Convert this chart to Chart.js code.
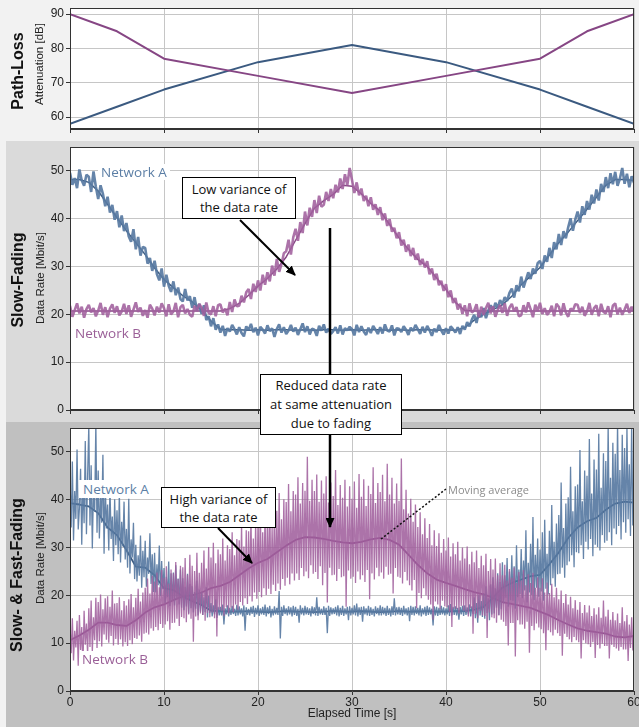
<!DOCTYPE html>
<html><head><meta charset="utf-8">
<script src="https://cdn.jsdelivr.net/npm/chart.js@4"></script>
<style>
body{margin:0;width:639px;height:727px;position:relative;overflow:hidden;background:#f2f2f2;font-family:"Liberation Sans",Arial,sans-serif}
.bg{position:absolute}
canvas{position:absolute;left:0}
.rot{position:absolute;transform:translate(-50%,-50%) rotate(-90deg);white-space:nowrap;color:#111}
.side{font-weight:bold;font-size:16px}
.ax{font-size:11.5px;color:#222}
.box{position:absolute;background:#fff;border:1px solid #000;text-align:center;font-family:"Open Sans",sans-serif;font-size:13px;line-height:18px;color:#111;box-sizing:border-box;display:flex;flex-direction:column;justify-content:center}
.lbl{position:absolute;font-family:"Open Sans",sans-serif;font-size:13.5px;white-space:nowrap;line-height:16px}
</style></head>
<body>
<div class="bg" style="left:0;top:0;width:639px;height:141px;background:#f2f2f2"></div>
<div class="bg" style="left:6px;top:141px;width:633px;height:281px;background:#dadada"></div>
<div class="bg" style="left:6px;top:422px;width:633px;height:305px;background:#c0c0c0"></div>
<canvas id="c1" width="639" height="140" style="top:0"></canvas>
<canvas id="c2" width="639" height="280" style="top:141px"></canvas>
<canvas id="c3" width="639" height="305" style="top:422px"></canvas>

<div class="rot side" style="left:18px;top:71px">Path-Loss</div>
<div class="rot ax" style="left:39px;top:64px">Attenuation [dB]</div>
<div class="rot side" style="left:18px;top:280px">Slow-Fading</div>
<div class="rot ax" style="left:40px;top:278px">Data Rate [Mbit/s]</div>
<div class="rot side" style="left:17px;top:575px">Slow- &amp; Fast-Fading</div>
<div class="rot ax" style="left:40px;top:558px">Data Rate [Mbit/s]</div>
<div style="position:absolute;left:352px;top:706px;transform:translateX(-50%);font-size:12px;color:#222;white-space:nowrap">Elapsed Time [s]</div>

<svg width="639" height="727" style="position:absolute;left:0;top:0">
<defs><marker id="ah" markerWidth="10" markerHeight="9" refX="9" refY="4.5" orient="auto" markerUnits="userSpaceOnUse"><path d="M0,0 L10,4.5 L0,9 z" fill="#000"/></marker></defs>
<line x1="240" y1="220" x2="295" y2="275" stroke="#000" stroke-width="2" marker-end="url(#ah)"/>
<line x1="330" y1="228" x2="330" y2="375" stroke="#000" stroke-width="2.5"/>
<line x1="330" y1="434" x2="330" y2="527" stroke="#000" stroke-width="2.5" marker-end="url(#ah)"/>
<line x1="218" y1="528" x2="252" y2="563" stroke="#000" stroke-width="2" marker-end="url(#ah)"/>
<line x1="381" y1="539" x2="446" y2="489" stroke="#111" stroke-width="1.5" stroke-dasharray="2,2"/>
</svg>

<div class="lbl" style="left:98px;top:164px;background:#fff;padding:0 3px;color:#5b7ea5">Network A</div>
<div class="lbl" style="left:75px;top:325px;color:#9a5f97">Network B</div>
<div class="lbl" style="left:79px;top:480px;background:#fff;padding:1px 4px;color:#5b7ea5">Network A</div>
<div class="lbl" style="left:80px;top:651px;background:#fff;padding:0 2px;color:#9a5f97">Network B</div>
<div class="lbl" style="left:448px;top:482px;font-size:11px;color:#8c8c8c">Moving average</div>
<div class="box" style="left:182px;top:177px;width:114px;height:42px"><div>Low variance of</div><div>the data rate</div></div>
<div class="box" style="left:260px;top:374px;width:142px;height:61px;line-height:19px"><div>Reduced data rate</div><div>at same attenuation</div><div>due to fading</div></div>
<div class="box" style="left:161px;top:487px;width:115px;height:41px"><div>High variance of</div><div>the data rate</div></div>

<script>
// ---------- Path-loss (top) ----------
const pathTime = [0, 5, 10, 20, 30, 40, 50, 55, 60];
const pathLossA = [58, 63, 68, 76, 81, 76, 68, 63, 58];
const pathLossB = [90, 85, 77, 72, 67, 72, 77, 85, 90];

// ---------- Slow fading (middle): one sample every 0.25 s ----------
const slowRateA = [
49.6,47.1,48.5,46.4, 50.3,48.0,46.9,49.2, 48.8,45.6,49.9,46.7, 44.1,47.0,45.2,42.6,
44.6,41.3,42.9,39.8, 41.6,38.2,40.7,37.4, 39.1,36.3,35.2,37.8, 33.6,36.2,32.3,34.1,
33.9,30.6,31.8,29.1, 31.2,28.4,27.1,29.6, 25.8,28.3,26.0,24.7, 26.9,24.0,25.6,23.2,
22.7,25.3,22.9,23.8, 21.4,23.6,20.9,22.2, 20.1,21.9,18.8,19.6, 17.5,19.2,16.8,17.9,
16.2,17.6,15.5,17.1, 16.4,17.8,16.9,15.8, 17.3,16.1,15.4,17.5, 16.7,18.0,16.3,17.2,
15.6,17.4,16.8,16.0, 17.7,16.5,17.1,15.3, 16.9,17.9,16.2,17.3, 15.9,16.6,17.8,16.4,
17.2,15.7,16.9,18.1, 16.3,17.5,15.8,17.0, 16.8,15.5,17.6,16.6, 17.9,16.2,17.0,15.9,
16.5,17.3,16.0,17.7, 15.8,17.1,16.7,17.4, 16.9,15.6,17.8,16.3, 17.5,16.4,15.7,17.2,
16.1,17.6,16.8,15.9, 17.3,16.0,17.9,16.6, 16.4,17.7,15.6,17.1, 17.0,16.3,17.5,16.8,
15.7,17.2,16.5,17.8, 16.9,15.9,17.4,16.2, 17.6,16.7,15.5,17.0, 16.3,17.8,16.6,15.8,
17.1,16.0,17.5,16.9, 16.2,17.3,15.9,17.6, 16.8,18.4,17.5,18.9, 19.9,18.2,20.6,19.4,
21.3,19.2,20.8,21.9, 20.6,22.4,21.3,23.0, 22.1,23.6,22.8,24.5, 25.4,23.5,26.1,24.8,
27.9,25.6,27.2,28.8, 27.4,29.6,28.5,30.7, 31.2,29.5,32.3,31.0, 33.9,31.8,35.1,33.6,
36.8,34.5,37.4,35.9, 38.2,40.1,37.5,39.8, 41.5,39.2,42.6,40.8, 43.7,41.9,45.0,43.2,
46.1,43.8,47.3,45.6, 48.7,46.4,49.5,47.2, 49.8,46.9,48.4,50.6, 47.3,49.4,46.6,48.9,
47.5];
const slowRateB = [
21.8,19.5,20.9,22.3, 20.2,21.6,19.3,21.1, 22.0,20.4,21.3,19.6, 20.8,22.4,19.9,21.5,
19.4,21.2,22.1,20.3, 21.7,19.8,20.6,22.2, 20.1,21.9,19.5,21.0, 22.5,20.5,21.4,19.7,
20.9,19.3,22.0,21.2, 19.8,21.6,20.4,22.3, 21.3,19.6,22.1,20.0, 20.6,22.4,19.4,21.5,
22.0,20.2,21.1,19.9, 19.5,21.8,20.7,22.2, 21.4,19.7,22.5,20.3, 20.0,21.7,19.6,21.9,
22.1,20.4,21.2,19.8, 22.6,20.5,23.1,21.7, 21.8,23.9,22.5,24.6, 25.3,23.2,26.4,24.7,
27.1,25.0,28.3,26.2, 28.8,26.9,30.2,28.1, 31.6,28.9,30.5,32.8, 33.2,35.6,32.5,36.1,
37.9,35.4,39.3,37.0, 41.5,38.6,42.3,40.4, 43.9,41.2,44.8,42.5, 42.9,45.6,43.7,46.2,
44.3,47.1,45.5,48.4, 46.2,49.3,47.0,50.6, 48.1,45.4,47.6,44.9, 46.3,43.7,44.8,42.6,
44.5,41.9,43.0,40.8, 42.4,39.7,41.1,38.5, 39.9,37.3,38.1,35.9, 37.2,34.4,35.6,33.1,
34.6,32.2,33.9,31.4, 32.7,30.3,31.6,29.8, 31.1,28.4,29.6,27.2, 28.5,26.1,27.0,24.9,
26.3,23.6,25.0,22.4, 23.4,21.0,22.2,20.1, 21.9,19.6,22.3,20.4, 20.8,22.1,19.4,21.6,
19.9,21.3,22.4,20.2, 21.7,19.5,20.9,22.0, 20.3,22.3,19.7,21.4, 22.2,20.6,21.5,19.6,
19.8,21.9,20.4,22.5, 21.1,19.4,22.0,20.7, 22.4,20.1,21.3,19.9, 20.5,21.8,19.6,22.2,
21.6,19.8,22.3,20.4, 19.5,21.2,20.8,22.1, 22.0,20.3,21.6,19.7, 20.6,22.4,19.9,21.3,
21.9,19.6,22.2,20.5, 20.2,21.7,19.4,21.8, 22.3,20.0,21.4,19.9, 21.0,22.2,20.3,21.6,
20.6];
// smoothed curves, one value per second
const slowAvgA = [48.2,48.2,47.6,45.8,43.0,40.2,37.5,35.0,32.5,29.7,27.3,25.6,23.9,22.6,20.8,18.6,16.9,
16.8,16.8,16.7,16.8,16.7, 16.8,16.8,16.7,16.8,16.7, 16.8,16.8,16.7,16.8,16.7, 16.8,16.8,16.7,16.8,16.7, 16.8,16.8,16.7,16.8,16.7,
17.2,18.8,20.0,21.0,22.0,23.8,26.2,28.0,29.8,32.4,35.0,37.2,39.6,42.0,44.5,47.0,48.2,48.2,48.0];
const slowAvgB = [20.7,20.7,20.7,20.7,20.7,20.7,20.7,20.7,20.7,20.7,20.7,20.7,20.7,20.7,20.7,20.7,20.7,
21.2,22.3,24.0,25.9,27.5,29.5,32.0,35.5,39.0,42.2,43.8,45.1,47.0,46.8,45.2,43.2,41.6,38.8,36.0,33.6,31.5,30.0,27.6,25.2,22.5,20.8,
20.7,20.7,20.7,20.7,20.7,20.7,20.7,20.7,20.7,20.7,20.7,20.7,20.7,20.7,20.7,20.7,20.7,20.7];

// ---------- Slow & fast fading (bottom): one sample every 0.125 s ----------
const fastRateA = [
44.5,34.2,48.0,31.5,41.8,36.0,50.5,33.8,
38.2,46.5,30.6,43.9,35.1,52.3,32.8,45.0,
55.5,34.6,47.2,29.8,42.7,37.5,56.0,33.1,
46.1,31.9,40.8,35.2,49.4,28.7,43.5,34.0,
39.0,29.4,42.6,31.8,36.5,27.2,40.1,30.5,
37.8,28.6,41.3,26.9,35.4,30.2,39.6,27.5,
33.9,25.8,40.2,24.6,31.7,27.9,35.2,23.4,
30.6,22.9,28.4,24.1,32.5,21.6,29.3,23.8,
31.4,21.8,27.9,24.5,33.0,22.4,28.6,20.7,
28.9,20.6,26.5,22.1,30.4,19.8,27.2,21.3,
25.7,18.4,23.9,19.6,27.1,17.8,24.6,18.9,
24.8,17.9,26.3,19.2,23.5,18.1,25.4,17.4,
23.6,16.9,21.8,17.7,24.5,16.2,22.4,17.3,
21.9,16.4,20.7,17.2,23.1,15.8,21.2,16.6,
20.8,15.9,19.6,16.5,21.7,15.4,19.9,16.3,
18.4,15.6,17.9,16.0,19.2,15.3,17.6,15.8,
17.6,15.8,18.1,13.9,17.3,16.0,17.9,15.6,
17.4,15.9,17.8,16.1,17.2,15.7,18.0,15.8,
17.7,16.0,17.3,15.6,17.9,12.6,17.5,15.9,
17.2,15.8,17.6,16.1,17.8,15.5,17.4,16.0,
17.9,15.7,17.3,16.0,17.6,15.9,18.1,15.6,
17.5,16.1,17.8,15.4,17.2,15.8,17.7,16.0,
17.4,15.9,20.9,11.0,17.6,15.7,17.9,16.1,
17.3,15.8,17.7,16.0,17.5,15.6,17.8,15.9,
17.6,15.7,17.2,14.3,17.9,16.0,17.4,15.8,
17.8,16.0,17.5,15.9,17.3,15.6,17.7,16.1,
17.5,15.8,19.6,15.7,17.6,16.0,17.2,15.9,
17.7,15.9,17.4,12.1,17.8,15.7,17.5,16.0,
17.3,16.1,17.6,15.8,17.9,15.6,17.4,15.9,
17.8,15.7,17.3,16.0,17.6,14.8,17.7,15.8,
17.4,16.0,17.9,15.8,18.3,15.6,17.5,15.9,
17.6,14.5,17.7,16.0,17.3,15.8,17.8,15.7,
17.5,15.9,17.2,15.6,17.7,16.1,17.4,15.8,
17.9,15.8,17.6,16.0,17.4,15.7,17.8,15.9,
17.3,15.6,17.7,15.9,19.4,15.8,17.5,16.0,
17.6,15.9,17.4,15.7,17.8,16.0,17.3,15.8,
17.5,14.6,17.8,15.9,17.6,15.8,17.7,16.1,
17.4,15.8,17.9,15.6,17.3,16.0,17.6,15.7,
17.8,15.9,17.5,16.0,17.2,13.7,17.7,15.8,
17.6,15.7,17.4,15.9,17.8,16.0,17.5,15.8,
17.3,16.0,17.9,15.7,18.2,15.8,17.6,15.9,
17.7,15.8,17.4,14.9,17.6,16.0,17.8,15.7,
17.9,15.9,17.5,16.0,18.1,15.6,17.7,16.1,
19.6,15.2,18.4,14.3,20.1,15.8,18.8,15.5,
20.5,15.1,21.9,16.3,19.4,14.8,22.3,16.0,
23.8,16.2,21.5,17.4,24.6,15.9,22.8,17.1,
26.9,18.3,24.2,19.5,27.8,17.6,25.0,19.0,
28.4,18.9,26.1,17.2,30.5,19.6,25.4,20.3,
29.7,19.4,27.3,21.0,33.6,18.5,26.8,20.6,
30.8,20.1,36.4,19.0,28.5,21.6,31.9,19.7,
29.6,20.8,33.2,18.9,35.8,21.4,28.7,20.2,
33.5,22.1,38.9,23.6,31.2,21.8,35.0,24.4,
36.8,24.5,43.6,25.8,34.1,23.7,39.2,26.3,
40.5,27.1,46.9,28.4,37.6,25.9,42.8,29.0,
43.2,28.8,50.4,30.5,39.7,27.6,46.1,31.2,
45.0,29.6,52.7,31.8,41.3,28.2,48.4,30.6,
46.3,30.1,53.8,29.4,42.5,32.6,49.7,31.0,
48.1,31.4,55.4,33.2,44.6,30.5,51.9,34.0,
49.6,32.8,56.0,34.5,46.2,31.7,53.6,35.3,
50.8,33.1,55.2,35.9,47.4,32.4,56.0,34.6,
44.0];
const fastRateB = [
13.8,7.9,15.2,6.4,12.6,9.1,14.7,5.3,
15.9,8.6,13.4,5.0,16.8,9.7,14.1,7.6,
17.3,9.2,18.9,8.1,15.4,10.6,19.5,9.0,
18.6,10.4,20.2,9.3,17.1,11.8,19.4,10.7,
19.8,10.1,17.6,11.5,21.0,9.5,18.3,10.9,
18.4,9.7,19.6,10.8,16.9,9.3,18.8,10.2,
17.9,9.4,19.2,10.6,20.3,9.8,17.5,11.1,
19.5,10.9,21.4,11.6,18.7,10.3,20.6,12.0,
21.6,12.2,23.5,11.8,20.4,13.1,24.1,12.6,
22.9,13.4,24.8,12.7,21.7,14.0,25.3,13.2,
23.7,13.9,26.1,14.6,22.5,12.8,25.4,14.2,
24.6,14.3,27.0,15.1,23.4,13.6,26.2,15.5,
25.9,15.2,27.8,14.4,24.3,16.0,28.5,15.1,
26.2,10.3,25.1,15.6,28.9,14.8,24.7,16.2,
26.8,15.9,29.4,14.7,25.6,16.3,30.1,15.4,
27.9,16.4,31.0,15.2,26.7,11.4,29.6,17.0,
28.6,16.8,31.9,15.7,27.3,17.5,30.5,16.2,
29.7,17.4,33.2,16.5,28.4,18.1,31.8,17.0,
31.5,18.6,34.8,17.9,30.2,19.4,33.6,18.2,
33.4,19.8,36.5,18.7,31.9,20.6,35.2,19.3,
34.9,20.7,38.3,19.6,33.2,21.5,37.0,20.1,
35.8,21.4,39.6,20.3,34.1,22.2,38.2,20.9,
37.7,22.5,41.4,21.2,35.9,23.4,40.1,22.0,
39.5,23.7,43.3,22.3,37.6,24.6,41.8,23.1,
41.1,24.6,44.7,23.2,39.2,25.7,43.5,24.0,
41.9,25.0,49.0,23.6,39.8,26.3,44.2,24.5,
41.8,24.9,45.3,23.4,39.6,26.1,44.0,22.1,
41.3,24.7,44.9,18.5,39.4,25.8,43.6,24.2,
40.8,24.3,46.2,23.0,38.9,25.5,43.1,23.8,
40.4,24.0,44.2,17.6,38.6,25.2,42.8,23.5,
40.2,23.9,43.8,22.6,38.3,25.0,45.4,23.3,
40.6,24.2,44.3,22.8,38.7,25.3,42.9,19.2,
41.2,24.6,46.8,23.3,39.3,25.8,43.5,24.0,
41.6,24.8,45.2,23.5,39.7,26.0,47.5,24.3,
41.1,24.5,44.6,20.4,39.2,25.7,43.4,23.9,
39.8,23.7,48.6,22.5,38.0,24.9,42.1,23.1,
37.1,22.1,40.2,21.0,35.4,23.2,39.0,17.3,
34.3,20.5,37.4,19.4,32.8,21.5,36.1,20.0,
32.0,19.1,34.9,18.1,30.5,14.9,33.6,18.7,
30.3,18.1,33.0,17.1,28.9,18.9,31.8,17.7,
29.4,17.5,32.1,16.6,28.1,13.4,30.9,17.2,
28.6,17.1,31.2,16.2,27.3,17.8,30.0,16.8,
27.7,16.5,30.2,15.6,26.5,17.3,29.1,12.0,
26.9,16.1,29.4,15.2,25.7,16.8,28.3,15.8,
26.3,15.7,28.7,11.1,25.1,16.4,27.6,15.4,
25.4,15.2,27.7,14.3,24.2,15.8,26.7,14.9,
24.2,14.5,26.4,13.6,23.1,9.5,25.5,14.2,
23.7,14.2,25.8,7.2,22.6,14.8,24.9,13.9,
23.1,13.9,25.3,13.0,22.1,14.5,24.4,8.0,
22.6,13.6,24.7,12.7,21.6,14.1,23.8,13.3,
21.6,12.9,23.6,12.1,20.6,8.5,22.7,12.7,
20.5,12.3,22.4,11.6,19.6,12.8,21.6,12.1,
19.2,11.5,21.0,7.4,18.4,12.0,20.3,11.3,
18.1,10.8,19.7,10.2,17.3,11.3,19.0,10.6,
17.0,10.2,18.6,6.8,16.3,10.6,18.0,10.0,
16.4,9.8,17.9,9.2,15.7,10.2,17.3,6.9,
16.0,9.6,17.5,8.9,15.3,9.9,18.9,9.4,
15.6,9.4,17.0,6.8,14.9,9.7,16.5,9.2,
14.8,8.9,16.2,8.4,14.2,9.2,17.5,8.7,
14.6,8.7,15.9,6.3,13.9,9.0,15.4,8.5,
12.0];
// moving averages, one value per second
const fastAvgA = [39.3,39.0,38.6,37.2,34.2,32.6,29.5,26.0,25.8,24.2,21.5,21.1,19.8,18.8,18.0,16.8,
16.7,16.6,16.6,16.7,16.6,16.5,16.6,16.7,16.6,16.6,16.5,16.6,16.7,16.6,16.6,16.7,16.6,16.5,16.6,16.7,16.6,16.6,16.7,16.6,16.6,16.7,16.7,
17.0,17.6,19.5,21.6,22.6,23.3,24.0,24.3,26.5,29.0,32.0,34.2,35.5,36.2,37.9,39.2,39.6,39.4];
const fastAvgB = [10.6,11.6,12.8,14.3,14.3,13.8,13.6,14.8,16.4,17.5,
18.1,19.0,19.8,20.0,20.6,21.5,22.0,22.8,24.2,25.6,
26.8,27.6,29.0,30.4,31.6,32.2,32.1,31.8,31.4,31.1,
30.9,31.2,31.7,32.0,31.6,30.6,28.5,26.4,24.6,23.3,
22.6,22.0,21.3,20.7,20.2,19.5,18.6,18.2,17.8,17.4,
16.6,15.8,14.8,13.9,13.1,12.6,12.3,12.0,11.4,11.2,11.5];

const xTickValues = [0, 10, 20, 30, 40, 50, 60];

// sample times
const slowTime = slowRateA.map((_, i) => i / 4);
const fastTime = fastRateA.map((_, i) => i / 8);
const avgTime = slowAvgA.map((_, i) => i);
const xy = (xs, ys) => ys.map((v, i) => ({x: xs[i], y: v}));

const BLUE = '#3b5a80', PURPLE = '#864684';
const BLUE_N = 'rgba(88,122,162,0.92)', PURPLE_N = 'rgba(160,96,157,0.88)';
const FONT = {family: 'Liberation Sans', size: 12};

const frame = {
  id: 'frame',
  beforeDraw(c) {
    const a = c.chartArea, ctx = c.ctx;
    ctx.save(); ctx.fillStyle = '#fff';
    ctx.fillRect(a.left, a.top, a.right - a.left, a.bottom - a.top);
    ctx.restore();
  },
  afterDraw(c) {
    const a = c.chartArea, ctx = c.ctx;
    ctx.save(); ctx.strokeStyle = '#333'; ctx.lineWidth = 1;
    ctx.strokeRect(Math.round(a.left) + 0.5, Math.round(a.top) + 0.5,
                   Math.round(a.right - a.left) - 1, Math.round(a.bottom - a.top) - 1);
    ctx.restore();
  }
};

function scales(yMin, yMax, showX, xH) {
  return {
    x: {type: 'linear', min: 0, max: 60,
        afterBuildTicks(s) { s.ticks = xTickValues.map(v => ({value: v})); },
        ticks: {display: showX, color: '#222', font: FONT, padding: 0, maxRotation: 0, autoSkip: false},
        grid: {color: '#c6c6c6', tickColor: '#333', tickLength: 4},
        border: {color: '#333'},
        afterFit(s) { s.height = xH; s.paddingLeft = 0; s.paddingRight = 0; }},
    y: {min: yMin, max: yMax,
        ticks: {stepSize: 10, includeBounds: false, color: '#222', font: FONT, padding: 2},
        grid: {color: '#c6c6c6', tickColor: '#333', tickLength: 4},
        border: {color: '#333'},
        afterFit(s) { s.width = 70; s.paddingTop = 0; s.paddingBottom = 0; }}
  };
}

function line(data, color, width) {
  return {data, borderColor: color, borderWidth: width, borderJoinStyle: 'bevel',
          pointRadius: 0, tension: 0, fill: false};
}

const common = (padTop) => ({
  responsive: false, animation: false, parsing: false, normalized: true,
  layout: {padding: {top: padTop, right: 5, left: 0, bottom: 0}},
  plugins: {legend: {display: false}, tooltip: {enabled: false}},
  events: []
});

new Chart(document.getElementById('c1'), {
  type: 'line',
  data: {datasets: [
    line(xy(pathTime, pathLossB), PURPLE, 2),
    line(xy(pathTime, pathLossA), BLUE, 2)
  ]},
  options: Object.assign(common(8), {scales: scales(56.5, 91.8, false, 11)}),
  plugins: [frame]
});

new Chart(document.getElementById('c2'), {
  type: 'line',
  data: {datasets: [
    line(xy(slowTime, slowRateB), PURPLE_N, 2.6),
    line(xy(slowTime, slowRateA), BLUE_N, 2.6),
    line(xy(avgTime, slowAvgB), PURPLE, 1.5),
    line(xy(avgTime, slowAvgA), BLUE, 1.5)
  ]},
  options: Object.assign(common(6), {scales: scales(0, 55, false, 11)}),
  plugins: [frame]
});

new Chart(document.getElementById('c3'), {
  type: 'line',
  data: {datasets: [
    line(xy(fastTime, fastRateB), PURPLE_N, 1.3),
    line(xy(fastTime, fastRateA), BLUE_N, 1.3),
    line(xy(avgTime, fastAvgB), PURPLE, 1.8),
    line(xy(avgTime, fastAvgA), BLUE, 1.8)
  ]},
  options: Object.assign(common(6), {scales: scales(0, 55, true, 36)}),
  plugins: [frame]
});
</script>
</body></html>
